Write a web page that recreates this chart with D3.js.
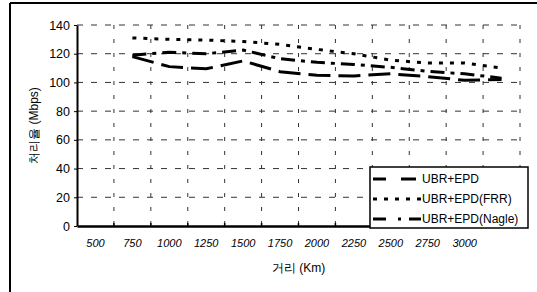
<!DOCTYPE html>
<html>
<head>
<meta charset="utf-8">
<script src="https://cdn.jsdelivr.net/npm/d3@7"></script>
<style>
  html, body { margin: 0; padding: 0; background: #fff; }
  svg { display: block; font-family: 'Liberation Sans', Arial, sans-serif; }
</style>
</head>
<body>
<div id="app"></div>
<script>
'use strict'

// categories on the x axis (the last band has no label)
const categories = ['500', '750', '1000', '1250', '1500', '1750', '2000', '2250', '2500', '2750', '3000', '3250']
const tickLabels = ['500', '750', '1000', '1250', '1500', '1750', '2000', '2250', '2500', '2750', '3000', '']

// measured distances
const distances = ['750', '1000', '1250', '1500', '1750', '2000', '2250', '2500', '2750', '3000', '3250']

// throughput (Mbps)
const ubrEpd = [118, 111, 109.5, 115, 107.5, 105, 104.5, 106, 104, 101.5, 102]
const ubrEpdFrr = [131, 130, 129.5, 128.5, 126.5, 123, 120, 115.5, 113.5, 113.5, 110]
const ubrEpdNagle = [119, 121, 120, 122.5, 116.5, 114, 112.5, 110.5, 107.7, 106, 103]

const yTicks = [0, 20, 40, 60, 80, 100, 120, 140]

const seriesNames = ['UBR+EPD', 'UBR+EPD(FRR)', 'UBR+EPD(Nagle)']

const setWidth = 537
const setHeight = 292

const setPaddings = {
  top: 25,
  bottom: 66,
  left: 77,
  right: 17
}

const innerW = setWidth - setPaddings.left - setPaddings.right
const innerH = setHeight - setPaddings.top - setPaddings.bottom

const svg = d3.select('#app')
  .append('svg')
  .attr('width', setWidth)
  .attr('height', setHeight)

// outer frame (left and top edges of the scanned box)
svg.append('line')
  .attr('x1', 10).attr('x2', setWidth).attr('y1', 3).attr('y2', 3)
  .attr('stroke', '#000').attr('stroke-width', 2)
svg.append('line')
  .attr('x1', 10).attr('x2', 10).attr('y1', 3).attr('y2', setHeight)
  .attr('stroke', '#000').attr('stroke-width', 2)

const g = svg.append('g')
  .attr('transform', `translate(${[setPaddings.left, setPaddings.top]})`)

const scaleX = d3.scaleBand()
  .domain(categories)
  .range([0, innerW])
  .padding(0)

const scaleY = d3.scaleLinear()
  .domain([0, 140])
  .range([innerH, 0])

const cx = d => scaleX(d) + scaleX.bandwidth() / 2

// horizontal grid
g.append('g')
  .selectAll('line')
  .data(yTicks.filter(d => d > 0))
  .join('line')
  .attr('x1', 0)
  .attr('x2', innerW)
  .attr('y1', d => scaleY(d))
  .attr('y2', d => scaleY(d))
  .attr('stroke', '#333')
  .attr('stroke-width', 1)
  .attr('stroke-dasharray', '6,8')

// vertical grid at band edges
const edges = categories.slice(1).map(c => scaleX(c)).concat([innerW])
g.append('g')
  .selectAll('line')
  .data(edges)
  .join('line')
  .attr('x1', d => d)
  .attr('x2', d => d)
  .attr('y1', 0)
  .attr('y2', innerH)
  .attr('stroke', '#333')
  .attr('stroke-width', 1)
  .attr('stroke-dasharray', '4,10')

// y axis
const yAxis = g.append('g')
  .attr('font-family', null)
  .call(d3.axisLeft(scaleY).tickValues(yTicks).tickSize(3).tickSizeOuter(0))
yAxis.attr('font-family', "'Liberation Sans', Arial, sans-serif")
yAxis.select('.domain').attr('stroke-width', 2)
yAxis.selectAll('text')
  .attr('font-size', 12.5)
  .attr('x', -7)
  .attr('fill', '#000')

// x axis
const xAxis = g.append('g')
  .attr('transform', `translate(0,${innerH})`)
  .call(d3.axisBottom(scaleX).tickFormat((d, i) => tickLabels[i]).tickSize(0).tickSizeOuter(0))
xAxis.attr('font-family', "'Liberation Sans', Arial, sans-serif")
xAxis.select('.domain').attr('stroke-width', 2.5)
xAxis.selectAll('text')
  .attr('font-size', 11)
  .attr('font-style', 'italic')
  .attr('y', 13)
  .attr('dy', '0.71em')
  .attr('fill', '#000')

// small up-ticks on x axis
g.append('g')
  .selectAll('line')
  .data(edges)
  .join('line')
  .attr('x1', d => d).attr('x2', d => d)
  .attr('y1', innerH).attr('y2', innerH - 3)
  .attr('stroke', '#000').attr('stroke-width', 1.5)

// axis titles
svg.append('text')
  .attr('x', setPaddings.left + innerW / 2)
  .attr('y', 272)
  .attr('text-anchor', 'middle')
  .attr('font-size', 12)
  .attr('fill', '#000')
  .text('거리 (Km)')

svg.append('text')
  .attr('transform', `translate(38,${setPaddings.top + innerH / 2}) rotate(-90)`)
  .attr('text-anchor', 'middle')
  .attr('font-size', 12)
  .attr('fill', '#000')
  .text('처리율 (Mbps)')

// series
const series = [
  { name: seriesNames[0], values: ubrEpd, dash: '22,8' },
  { name: seriesNames[1], values: ubrEpdFrr, dash: '4,7' },
  { name: seriesNames[2], values: ubrEpdNagle, dash: '14,6,4,6' }
]

const line = d3.line()
  .x((d, i) => cx(distances[i]))
  .y(d => scaleY(d))

g.append('g')
  .selectAll('path')
  .data(series)
  .join('path')
  .attr('d', d => line(d.values))
  .attr('fill', 'none')
  .attr('stroke', '#000')
  .attr('stroke-width', 3)
  .attr('stroke-dasharray', d => d.dash)

// legend
const legend = svg.append('g')
  .attr('transform', 'translate(370,167)')

legend.append('rect')
  .attr('width', 158)
  .attr('height', 61)
  .attr('fill', '#fff')
  .attr('stroke', '#000')
  .attr('stroke-width', 1.5)

const rows = legend.selectAll('g.row')
  .data(series)
  .join('g')
  .attr('class', 'row')
  .attr('transform', (d, i) => `translate(0,${12 + i * 20})`)

rows.append('line')
  .attr('x1', 3).attr('x2', 51)
  .attr('y1', 0).attr('y2', 0)
  .attr('stroke', '#000')
  .attr('stroke-width', 3)
  .attr('stroke-dasharray', (d, i) => ['13,15,15', '4,7', '13,12,3,8'][i])

rows.append('text')
  .attr('x', 52)
  .attr('y', 0)
  .attr('dy', '0.35em')
  .attr('font-size', 12)
  .attr('fill', '#000')
  .text(d => d.name)
</script>
</body>
</html>
